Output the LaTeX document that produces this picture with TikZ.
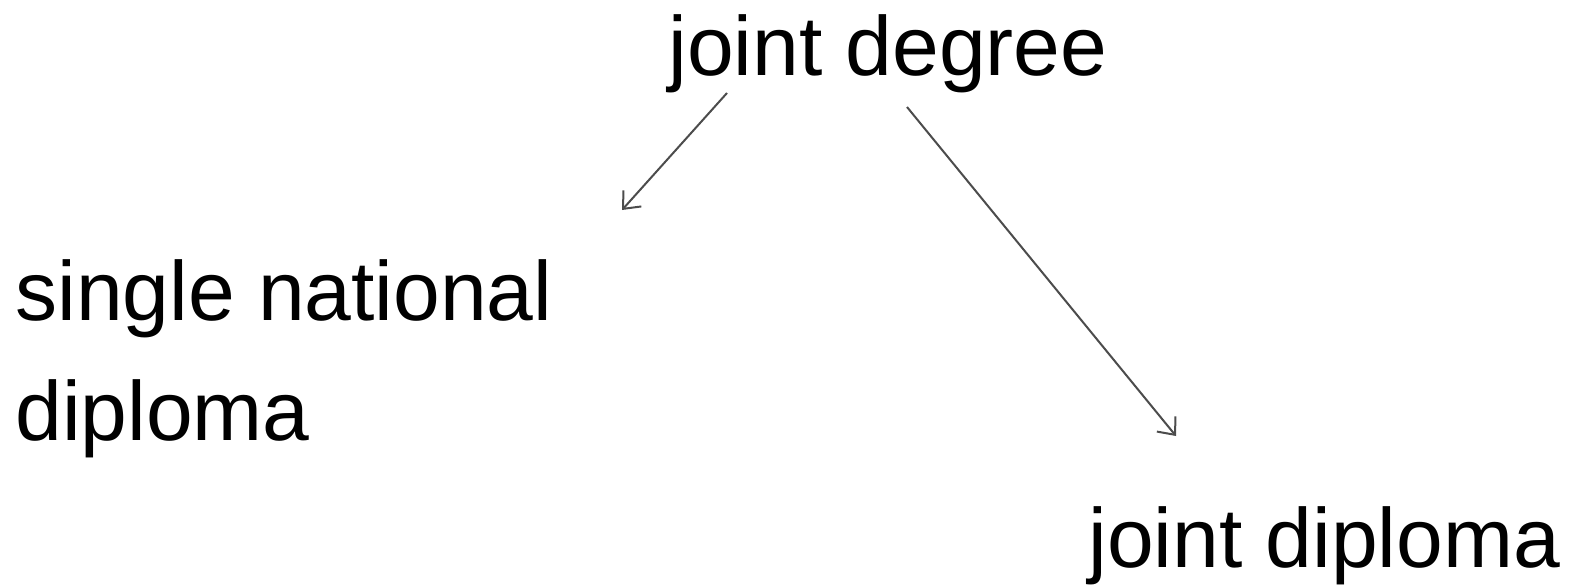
\documentclass[tikz,border=0pt]{standalone}
\usepackage{fontspec}
\setmainfont{Liberation Sans}
\usetikzlibrary{arrows.meta}
\begin{document}
\begin{tikzpicture}[x=0.5pt, y=-0.5pt,
  lbl/.style={inner sep=0, anchor=base west, align=left, font=\fontsize{42}{60}\selectfont},
  lnk/.style={draw=black!70, line width=1pt, -{Straight Barb[length=7pt, width=12pt]}}]
\useasboundingbox (0,0) rectangle (1585,584);
\node[lbl] (jdeg) at (668,75){joint degree};
\node[lbl] (snd) at (15,440){single national\\diploma};
\node[lbl] (jdip) at (1088,567){joint diploma};
\coordinate (a1) at (727,93);
\coordinate (b1) at (622,210);
\coordinate (a2) at (907,107);
\coordinate (b2) at (1176,436);
\draw[lnk](a1) -- (b1);
\draw[lnk](a2) -- (b2);

\end{tikzpicture}
\end{document}
